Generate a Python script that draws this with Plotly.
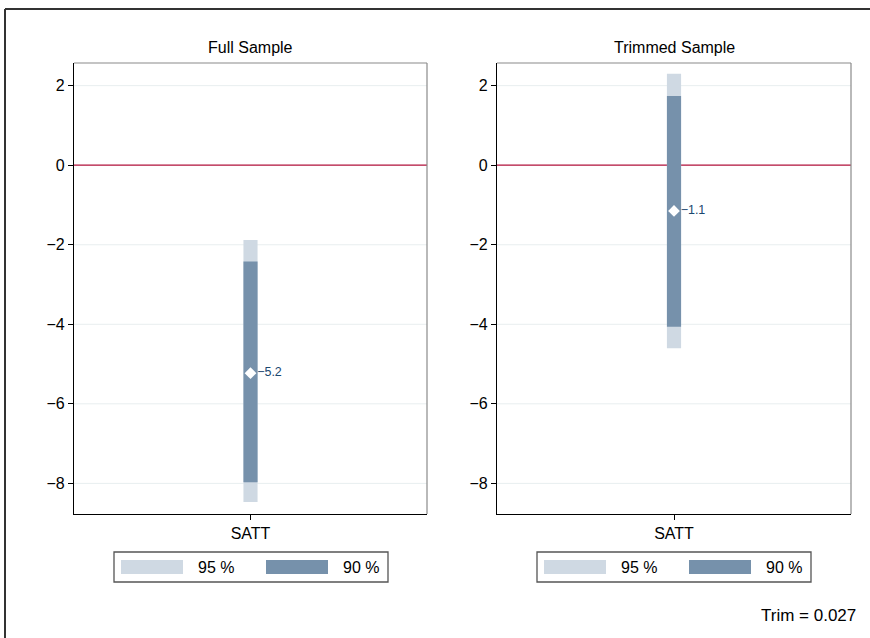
import plotly.graph_objects as go

# ---- data ----
panels = ["Full Sample", "Trimmed Sample"]
category = ["SATT"]
estimates = [-5.23, -1.15]
ci95_low = [-8.47, -4.60]
ci95_high = [-1.88, 2.30]
ci90_low = [-7.97, -4.06]
ci90_high = [-2.42, 1.74]
legend_labels = ["95 %", "90 %"]
y_ticks = [2, 0, -2, -4, -6, -8]
note_text = "Trim = 0.027"

W, H = 870, 638
C95 = "#cfd9e3"
C90 = "#7691ab"
LABEL_COL = "#1a476f"
ZERO_COL = "#b0103a"
GRID_COL = "#e8eeef"
FONT = "Liberation Sans, Arial, Helvetica, sans-serif"

def px(x):
    return x / W

def py(y):
    return 1 - y / H

# panel domains in pixels
panel_px = [(74, 427), (497, 851)]
top_px, bot_px = 63, 514

fig = go.Figure()

for i, name in enumerate(panels):
    xa = "x" if i == 0 else "x2"
    ya = "y" if i == 0 else "y2"
    lo95, hi95 = ci95_low[i], ci95_high[i]
    lo90, hi90 = ci90_low[i], ci90_high[i]
    fig.add_trace(go.Bar(x=[0], y=[hi95 - lo95], base=[lo95], width=0.08,
                         marker=dict(color=C95, line=dict(width=0)),
                         xaxis=xa, yaxis=ya, showlegend=False, name=legend_labels[0]))
    fig.add_trace(go.Bar(x=[0], y=[hi90 - lo90], base=[lo90], width=0.08,
                         marker=dict(color=C90, line=dict(width=0)),
                         xaxis=xa, yaxis=ya, showlegend=False, name=legend_labels[1]))
    lab = f"{estimates[i]:.1f}".replace("-", "\u2212")
    fig.add_trace(go.Scatter(x=[0], y=[estimates[i]], mode="markers+text",
                             marker=dict(symbol="diamond", size=9, color="white",
                                         line=dict(width=0)),
                             text=[lab], textposition="middle right",
                             textfont=dict(color=LABEL_COL, size=12.5, family=FONT),
                             xaxis=xa, yaxis=ya, showlegend=False, cliponaxis=False))

axis_common_x = dict(range=[-1, 1], tickvals=[0], ticktext=category, ticks="outside",
                     ticklen=5, tickcolor="black", showline=True, linecolor="black",
                     linewidth=1.2, showgrid=False, zeroline=False,
                     tickfont=dict(size=16, color="black", family=FONT), fixedrange=True)
axis_common_y = dict(range=[-8.77, 2.57], tickvals=y_ticks, ticks="outside", ticklen=5,
                     tickcolor="black", showline=True, linecolor="black", linewidth=1.2,
                     showgrid=False, zeroline=False,
                     tickfont=dict(size=16, color="black", family=FONT), fixedrange=True)

dom_y = [py(bot_px), py(top_px)]
fig.update_layout(
    width=W, height=H,
    margin=dict(l=0, r=0, t=0, b=0),
    paper_bgcolor="white", plot_bgcolor="white",
    barmode="overlay",
    font=dict(family=FONT, color="black"),
    xaxis=dict(domain=[px(panel_px[0][0]), px(panel_px[0][1])], anchor="y", **axis_common_x),
    yaxis=dict(domain=dom_y, anchor="x", **axis_common_y),
    xaxis2=dict(domain=[px(panel_px[1][0]), px(panel_px[1][1])], anchor="y2", **axis_common_x),
    yaxis2=dict(domain=dom_y, anchor="x2", **axis_common_y),
    showlegend=False,
)

shapes = []
annotations = []
for i, name in enumerate(panels):
    x0, x1 = panel_px[i]
    xr = "x" if i == 0 else "x2"
    yr = "y" if i == 0 else "y2"
    # light gridlines at the y ticks (below the bars)
    for t in y_ticks:
        if t == 0:
            continue
        shapes.append(dict(type="line", xref=xr, yref=yr, x0=-1, x1=1, y0=t, y1=t,
                           layer="below", line=dict(color=GRID_COL, width=1)))
    # red reference line at zero (below the bars)
    shapes.append(dict(type="line", xref=xr, yref=yr, x0=-1, x1=1, y0=0, y1=0,
                       layer="below", line=dict(color=ZERO_COL, width=1.2)))
    # gray top & right edges of the plot box
    shapes.append(dict(type="line", xref="paper", yref="paper", x0=px(x0), x1=px(x1),
                       y0=py(top_px), y1=py(top_px), line=dict(color="#8a8a8a", width=1.2)))
    shapes.append(dict(type="line", xref="paper", yref="paper", x0=px(x1), x1=px(x1),
                       y0=py(top_px), y1=py(bot_px), line=dict(color="#8a8a8a", width=1.2)))
    # title
    annotations.append(dict(text=name, xref="paper", yref="paper", x=px((x0 + x1) / 2),
                            y=py(48), xanchor="center", yanchor="middle", showarrow=False,
                            font=dict(size=16, color="black", family=FONT)))
    # legend box
    off = x0 - 74
    shapes.append(dict(type="rect", xref="paper", yref="paper", x0=px(114 + off),
                       x1=px(388 + off), y0=py(582), y1=py(552),
                       line=dict(color="#555555", width=1.3), fillcolor="white"))
    for j, (col, lab) in enumerate(zip([C95, C90], legend_labels)):
        sx0 = 121 + off + j * 145
        shapes.append(dict(type="rect", xref="paper", yref="paper", x0=px(sx0),
                           x1=px(sx0 + 62), y0=py(574), y1=py(560),
                           line=dict(width=0), fillcolor=col))
        annotations.append(dict(text=lab, xref="paper", yref="paper", x=px(sx0 + 75),
                                y=py(567), xanchor="left", yanchor="middle", showarrow=False,
                                font=dict(size=16, color="black", family=FONT)))

# outer frame (only left and top edges fall inside the picture)
shapes.append(dict(type="line", xref="paper", yref="paper", x0=px(5), x1=1.0,
                   y0=py(9), y1=py(9), line=dict(color="#333333", width=2)))
shapes.append(dict(type="line", xref="paper", yref="paper", x0=px(5), x1=px(5),
                   y0=py(9), y1=0, line=dict(color="#333333", width=2)))
annotations.append(dict(text=note_text, xref="paper", yref="paper", x=px(858), y=py(615),
                        xanchor="right", yanchor="middle", showarrow=False,
                        font=dict(size=17, color="black", family=FONT)))

fig.update_layout(shapes=shapes, annotations=annotations)
fig.write_html("out.html", config={"displayModeBar": False},
               post_script="document.body.style.margin='0';document.body.style.overflow='hidden';")
